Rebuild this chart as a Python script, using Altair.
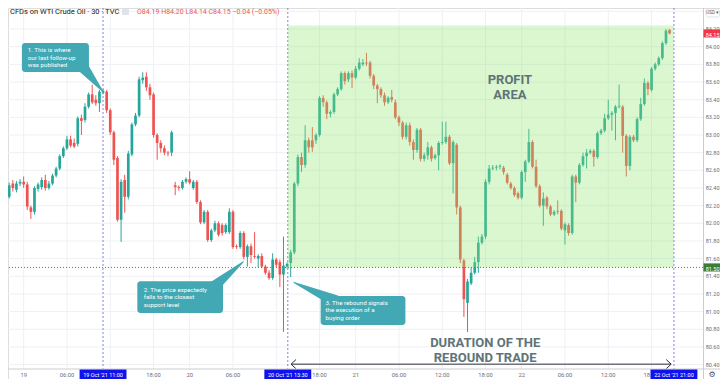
import altair as alt
import pandas as pd

# ---------------- data (30-min candles, index 0 = first bar at left edge) -------------
opens = [82.33, 82.30, 82.45, 82.38, 82.45, 82.47, 82.44, 82.18, 82.13, 82.39,
         82.41, 82.49, 82.40, 82.45, 82.54, 82.62, 82.76, 82.85, 82.95, 82.91,
         82.90, 83.19, 83.17, 83.32, 83.46, 83.40, 83.36, 83.48, 83.49, 83.28,
         83.03, 82.74, 82.04, 82.49, 82.30, 82.78, 83.12, 83.22, 83.62, 83.66,
         83.54, 83.46, 83.00, 82.91, 82.85, 82.80, 82.80, 82.43, 82.41, 82.40,
         82.47, 82.50, 82.40, 82.47, 82.24, 82.01, 82.13, 81.81, 81.92, 82.00,
         81.98, 81.90, 81.90, 82.13, 81.74, 81.73, 81.89, 81.62, 81.74, 81.63,
         81.60, 81.63, 81.51, 81.44, 81.38, 81.59, 81.56, 81.42, 81.51, 81.55,
         81.67, 82.45, 82.75, 82.66, 82.94, 82.94, 82.94, 83.00, 83.42, 83.37,
         83.24, 83.26, 83.46, 83.52, 83.70, 83.63, 83.70, 83.65, 83.75, 83.80,
         83.82, 83.82, 83.67, 83.56, 83.52, 83.45, 83.37, 83.43, 83.37, 83.20,
         83.14, 82.98, 83.11, 82.92, 82.83, 83.06, 82.73, 82.77, 82.86, 82.74,
         82.77, 82.91, 82.92, 82.98, 82.68, 82.89, 82.18, 81.58, 81.10, 81.32,
         81.44, 81.56, 81.78, 81.85, 82.47, 82.62, 82.63, 82.64, 82.63, 82.55,
         82.45, 82.40, 82.34, 82.29, 82.58, 82.70, 82.92, 82.64, 82.42, 82.20,
         82.29, 82.19, 82.10, 82.14, 82.14, 81.92, 81.98, 81.89, 82.53, 82.46,
         82.66, 82.76, 82.80, 82.82, 82.75, 83.02, 83.05, 83.19, 83.23, 83.25,
         83.32, 83.32, 82.99, 82.65, 82.98, 82.94, 83.18, 83.35, 83.59, 83.51,
         83.75, 83.80, 83.87, 84.04, 84.19]
highs = [82.36, 82.46, 82.49, 82.48, 82.50, 82.53, 82.47, 82.20, 82.42, 82.46,
         82.52, 82.55, 82.48, 82.56, 82.64, 82.78, 82.87, 82.99, 82.99, 82.96,
         83.21, 83.23, 83.36, 83.48, 83.57, 83.45, 83.51, 83.52, 83.51, 83.30,
         83.05, 82.76, 82.50, 82.55, 82.82, 83.14, 83.25, 83.66, 83.71, 83.71,
         83.58, 83.48, 83.02, 82.94, 82.88, 82.82, 83.05, 82.47, 82.43, 82.49,
         82.52, 82.59, 82.49, 82.49, 82.26, 82.15, 82.15, 81.94, 82.03, 82.02,
         82.00, 82.00, 82.17, 82.15, 81.76, 81.91, 81.91, 81.76, 81.77, 81.90,
         81.65, 81.66, 81.53, 81.47, 81.66, 81.61, 81.59, 81.85, 81.56, 81.70,
         82.47, 82.78, 82.80, 83.11, 82.97, 83.09, 83.02, 83.44, 83.45, 83.39,
         83.28, 83.48, 83.54, 83.72, 83.72, 83.72, 83.73, 83.78, 83.87, 83.86,
         83.93, 83.84, 83.69, 83.58, 83.54, 83.48, 83.44, 83.51, 83.40, 83.22,
         83.16, 83.14, 83.14, 82.95, 83.08, 83.08, 82.80, 82.92, 82.88, 82.79,
         82.93, 83.15, 83.15, 83.00, 82.94, 82.91, 82.20, 81.60, 81.37, 81.50,
         81.62, 81.85, 81.88, 82.50, 82.66, 82.66, 82.66, 82.67, 82.65, 82.57,
         82.47, 82.42, 82.36, 82.60, 82.72, 83.07, 82.94, 82.72, 82.44, 82.35,
         82.31, 82.21, 82.15, 82.26, 82.16, 82.01, 82.00, 82.55, 82.55, 82.68,
         82.80, 82.84, 82.84, 82.84, 83.04, 83.07, 83.24, 83.40, 83.27, 83.34,
         83.57, 83.34, 83.01, 83.00, 83.00, 83.20, 83.42, 83.64, 83.61, 83.77,
         83.82, 83.89, 84.06, 84.20, 84.20]
lows = [82.22, 82.28, 82.36, 82.35, 82.42, 82.40, 82.15, 82.05, 82.10, 82.36,
        82.38, 82.37, 82.38, 82.43, 82.52, 82.60, 82.74, 82.83, 82.86, 82.85,
        82.87, 83.00, 83.14, 83.30, 83.35, 83.33, 83.26, 83.46, 83.25, 83.00,
        82.66, 82.02, 81.79, 82.12, 82.27, 82.76, 83.10, 83.20, 83.58, 83.50,
        83.40, 82.97, 82.72, 82.80, 82.77, 82.76, 82.76, 82.32, 82.37, 82.38,
        82.45, 82.44, 82.38, 82.22, 81.99, 81.99, 81.79, 81.79, 81.90, 81.85,
        81.86, 81.88, 81.88, 81.71, 81.71, 81.71, 81.59, 81.51, 81.55, 81.60,
        81.50, 81.49, 81.42, 81.36, 81.36, 81.50, 81.28, 80.77, 81.49, 81.39,
        81.65, 82.42, 82.58, 82.63, 82.80, 82.81, 82.90, 82.98, 83.32, 83.18,
        83.20, 83.24, 83.44, 83.50, 83.57, 83.60, 83.53, 83.63, 83.73, 83.78,
        83.78, 83.64, 83.52, 83.36, 83.42, 83.33, 83.35, 83.37, 83.18, 83.10,
        82.95, 82.95, 82.88, 82.72, 82.80, 82.70, 82.70, 82.72, 82.70, 82.72,
        82.60, 82.89, 82.90, 82.66, 82.34, 82.10, 81.55, 80.94, 80.77, 81.30,
        81.42, 81.44, 81.76, 81.82, 82.44, 82.60, 82.60, 82.61, 82.55, 82.44,
        82.38, 82.30, 82.27, 82.27, 82.47, 82.68, 82.62, 82.40, 82.18, 81.97,
        82.16, 82.08, 82.08, 82.10, 81.92, 81.76, 81.86, 81.87, 82.24, 82.44,
        82.64, 82.62, 82.78, 82.64, 82.73, 83.00, 83.03, 83.17, 83.05, 82.94,
        83.30, 82.80, 82.53, 82.60, 82.92, 82.92, 83.16, 83.33, 83.45, 83.49,
        83.73, 83.78, 83.85, 84.02, 84.14]
closes = [82.27, 82.43, 82.40, 82.45, 82.47, 82.44, 82.19, 82.13, 82.40, 82.44,
          82.49, 82.40, 82.45, 82.54, 82.62, 82.76, 82.85, 82.95, 82.88, 82.87,
          83.19, 83.16, 83.32, 83.46, 83.37, 83.36, 83.49, 83.50, 83.28, 83.03,
          82.72, 82.04, 82.47, 82.30, 82.79, 83.12, 83.22, 83.63, 83.65, 83.54,
          83.45, 83.00, 82.91, 82.85, 82.80, 82.79, 83.03, 82.41, 82.40, 82.47,
          82.50, 82.46, 82.47, 82.24, 82.01, 82.13, 81.81, 81.92, 82.00, 81.87,
          81.89, 81.98, 82.13, 81.73, 81.73, 81.89, 81.62, 81.74, 81.64, 81.62,
          81.63, 81.51, 81.44, 81.38, 81.59, 81.53, 81.42, 81.52, 81.54, 81.67,
          82.45, 82.75, 82.66, 82.94, 82.86, 82.86, 83.00, 83.42, 83.37, 83.24,
          83.26, 83.46, 83.52, 83.70, 83.61, 83.70, 83.65, 83.75, 83.82, 83.82,
          83.81, 83.67, 83.56, 83.52, 83.45, 83.37, 83.42, 83.40, 83.20, 83.14,
          82.98, 83.11, 82.92, 82.83, 83.06, 82.73, 82.77, 82.86, 82.73, 82.77,
          82.91, 82.92, 82.98, 82.68, 82.92, 82.18, 81.59, 81.14, 81.34, 81.44,
          81.56, 81.78, 81.85, 82.47, 82.62, 82.63, 82.64, 82.65, 82.58, 82.46,
          82.40, 82.32, 82.29, 82.58, 82.70, 82.92, 82.64, 82.42, 82.20, 82.28,
          82.19, 82.10, 82.13, 82.13, 81.94, 81.99, 81.89, 82.53, 82.46, 82.66,
          82.76, 82.80, 82.82, 82.75, 83.02, 83.05, 83.19, 83.23, 83.25, 83.32,
          83.33, 82.99, 82.65, 82.98, 82.94, 83.18, 83.35, 83.59, 83.52, 83.75,
          83.80, 83.87, 84.04, 84.18, 84.15]

price_ticks = [80.40, 80.60, 80.80, 81.00, 81.20, 81.40, 81.60, 81.80, 82.00, 82.20,
               82.40, 82.60, 82.80, 83.00, 83.20, 83.40, 83.60, 83.80, 84.00, 84.20]
grid_prices = price_ticks + [84.40]
time_tick_idx = [5, 17, 41, 51, 63, 87, 97, 109, 121, 133, 143, 155, 167]
time_tick_lab = ["19", "06:00", "18:00", "20", "06:00", "18:00", "21", "06:00",
                 "12:00", "18:00", "22", "06:00", "12:00"]
partial_tick_idx = [178.6]
partial_tick_lab = ["18"]
vgrid_idx = [5, 17, 29, 41, 51, 63, 75, 87, 97, 109, 121, 133, 143, 155, 167, 179]
marker_idx = [27.0, 78.2, 185.2]
marker_lab = ["19 Oct '21   11:00", "20 Oct '21   13:30", "22 Oct '21   21:00"]
support_level = 81.50
last_price = 84.15
profit_top = 84.24

callout_text = [
    ["1. This is where", "our last follow-up", "was published"],
    ["2. The price expectedly", "falls to the closest", "support level"],
    ["3. The rebound signals", "the execution of a", "buying order"],
]
profit_label = ["PROFIT", "AREA"]
duration_label = ["DURATION OF THE", "REBOUND TRADE"]

# ---------------- styling / layout -------------
OFF = 8
W, H = 712, 371
X_DOMAIN = [2.049, 196.58]
Y_DOMAIN = [84.529 - (8 + H) / 88.3, 84.438]
GREEN, RED = "#26a69a", "#ef5350"
TEAL = "#42a8b4"
GRID = "#eef0f5"
AXC = "#6a6d78"
FONT = "Roboto"
AXIS_Y = 369   # bottom time-axis line (screen px)
LAB_Y = 375
RAX_X = 703.5  # right price-scale separator (screen px)
RLAB_X = 719.5

xs = alt.Scale(domain=X_DOMAIN, nice=False, zero=False)
ys = alt.Scale(domain=Y_DOMAIN, nice=False, zero=False)


def X(f):
    return alt.X(f, type="quantitative", scale=xs, axis=None)


def Y(f):
    return alt.Y(f, type="quantitative", scale=ys, axis=None)


def px(v):
    return alt.value(v - OFF)


df = pd.DataFrame({"k": range(len(opens)), "open": opens, "high": highs,
                   "low": lows, "close": closes})
col = alt.condition("datum.close >= datum.open", alt.value(GREEN), alt.value(RED))

base = alt.Chart(df)
wicks = base.mark_rule(strokeWidth=1, clip=True).encode(x=X("k"), y=Y("low"), y2="high", color=col)
bodies = base.mark_bar(size=2.7, clip=True).encode(x=X("k"), y=Y("open"), y2="close", color=col)

hgrid = alt.Chart(pd.DataFrame({"p": grid_prices})).mark_rule(color=GRID, strokeWidth=1).encode(
    y=Y("p"), x=px(0), x2=px(RAX_X))
vgrid = alt.Chart(pd.DataFrame({"k": vgrid_idx})).mark_rule(color=GRID, strokeWidth=1).encode(
    x=X("k"), y=px(0), y2=px(AXIS_Y))

mk_df = pd.DataFrame({"k": marker_idx, "lab": marker_lab})
mk_df["x0"] = mk_df["k"] - 6.5
mk_df["x1"] = mk_df["k"] + 6.5
vlines = alt.Chart(mk_df).mark_rule(color="#7f82e6", strokeWidth=1, strokeDash=[2, 2]).encode(
    x=X("k"), y=px(0), y2=px(AXIS_Y))

profit = alt.Chart(pd.DataFrame({"x0": [marker_idx[1]], "x1": [marker_idx[2]],
                                 "y0": [support_level], "y1": [profit_top]})).mark_rect(
    color="#8ee86f", opacity=0.33).encode(x=X("x0"), x2="x1", y=Y("y0"), y2="y1")

support = alt.Chart(pd.DataFrame({"p": [support_level]})).mark_rule(
    color="#4f8a45", strokeWidth=1, strokeDash=[1, 2]).encode(y=Y("p"), x=px(0), x2=px(RAX_X))

profit_txt = alt.Chart(pd.DataFrame({"k": [139.75, 139.75], "p": [83.623, 83.453],
                                     "t": profit_label})).mark_text(
    font=FONT, fontSize=13, fontWeight="bold", color="#5e7478", baseline="middle").encode(
    x=X("k"), y=Y("p"), text="t:N")

# callouts (positions in chart units: bar index / price)
box_df = pd.DataFrame({"x0": [4.51, 36.5, 87.3], "x1": [23.09, 60.25, 110.79],
                       "y0": [84.042, 81.345, 81.177], "y1": [83.714, 80.984, 80.848]})
boxes = alt.Chart(box_df).mark_rect(color=TEAL, cornerRadius=3).encode(
    x=X("x0"), x2="x1", y=Y("y0"), y2="y1")
ptr_df = pd.DataFrame({
    "g": [1, 1, 2, 2, 3, 3], "o": [0, 1, 0, 1, 0, 1],
    "k": [21.17, 27.0, 57.24, 65.90, 91.39, 79.92],
    "p": [83.782, 83.490, 81.267, 81.565, 81.120, 81.330],
    "w": [12, 0, 12, 0, 12, 0]})
pointers = alt.Chart(ptr_df).mark_trail(color=TEAL).encode(
    x=X("k"), y=Y("p"), size=alt.Size("w:Q", scale=None, legend=None),
    detail="g:N", order="o:Q")
ct_rows = []
ct_pos = [(6.15, [83.957, 83.875, 83.792]), (38.3, [81.243, 81.160, 81.077]),
          (88.66, [81.098, 81.015, 80.932])]
for lines, (kx, ps) in zip(callout_text, ct_pos):
    for t, p in zip(lines, ps):
        ct_rows.append({"k": kx, "p": p, "t": t})
ctext = alt.Chart(pd.DataFrame(ct_rows)).mark_text(
    font=FONT, fontSize=6.2, color="white", align="left", baseline="middle").encode(
    x=X("k"), y=Y("p"), text="t:N")

dur_txt = alt.Chart(pd.DataFrame({"k": [132.9, 132.9], "p": [80.650, 80.480],
                                  "t": duration_label})).mark_text(
    font=FONT, fontSize=13, fontWeight="bold", color="#5e7478", baseline="middle").encode(
    x=X("k"), y=Y("p"), text="t:N")

arrow_df = pd.DataFrame({
    "a": [79.1, 79.1, 79.1, 184.43, 184.43],
    "b": [184.43, 80.47, 80.47, 183.06, 183.06],
    "p": [80.405, 80.405, 80.405, 80.405, 80.405],
    "q": [80.405, 80.457, 80.353, 80.457, 80.353]})
arrow = alt.Chart(arrow_df).mark_rule(color="#2a2e39", strokeWidth=1).encode(
    x=X("a"), x2="b", y=Y("p"), y2="q")

# right price scale
raxis = alt.Chart(pd.DataFrame({"d": [0]})).mark_rule(color="#c9ccd4").encode(
    x=px(RAX_X), y=px(0), y2=px(8 + H))
plabels = alt.Chart(pd.DataFrame({"p": price_ticks})).mark_text(
    font=FONT, fontSize=5.5, color=AXC, align="right", baseline="middle").encode(
    y=Y("p"), x=px(RLAB_X), text=alt.Text("p:Q", format=".2f"))
tag_df = pd.DataFrame({"p": [last_price, support_level], "c": ["#f23645", "#3b7d34"]})
tag_df["y0"] = tag_df["p"] + 0.046
tag_df["y1"] = tag_df["p"] - 0.046
tags = alt.Chart(tag_df).mark_rect().encode(
    y=Y("y0"), y2="y1", x=px(RAX_X), x2=px(720), color=alt.Color("c:N", scale=None))
tag_txt = alt.Chart(tag_df).mark_text(
    font=FONT, fontSize=5.5, color="white", align="right", baseline="middle", dy=1.5).encode(
    y=Y("p"), x=px(RLAB_X), text=alt.Text("p:Q", format=".2f"))

# bottom time scale
baxis = alt.Chart(pd.DataFrame({"d": [0]})).mark_rule(color="#c9ccd4").encode(
    y=px(AXIS_Y), x=px(0), x2=px(720))
tlabels = alt.Chart(pd.DataFrame({"k": time_tick_idx, "t": time_tick_lab})).mark_text(
    font=FONT, fontSize=5.8, color=AXC, baseline="middle").encode(
    x=X("k"), y=px(LAB_Y), text="t:N")
tpartial = alt.Chart(pd.DataFrame({"k": partial_tick_idx, "t": partial_tick_lab})).mark_text(
    font=FONT, fontSize=5.8, color=AXC, baseline="middle", align="right").encode(
    x=X("k"), y=px(LAB_Y), text="t:N")
mk_box = alt.Chart(mk_df).mark_rect(color="#1111ee").encode(
    x=X("x0"), x2="x1", y=px(AXIS_Y + 0.5), y2=px(8 + H))
mk_txt = alt.Chart(mk_df).mark_text(
    font=FONT, fontSize=5.5, color="white", baseline="middle").encode(
    x=X("k"), y=px(LAB_Y), text="lab:N")

# header texts
hdr = alt.Chart(pd.DataFrame({"t": ["CFDs on WTI Crude Oil · 30 · TVC"]})).mark_text(
    font=FONT, fontSize=7.5, color="#131722", align="left", baseline="middle").encode(
    x=px(10), y=px(12), text="t:N")
hdr_btn = alt.Chart(pd.DataFrame({"d": [0]})).mark_rect(color="#e0e3eb", cornerRadius=1).encode(
    x=px(122), x2=px(129), y=px(9), y2=px(15))
ohlc = alt.Chart(pd.DataFrame({"t": ["O84.19 H84.20 L84.14 C84.15 −0.04 (−0.05%)"]})).mark_text(
    font=FONT, fontSize=7, color=RED, align="left", baseline="middle").encode(
    x=px(137), y=px(12), text="t:N")
usd_box = alt.Chart(pd.DataFrame({"d": [0]})).mark_rect(
    fill="white", stroke="#d1d4dc", strokeWidth=0.7, cornerRadius=2).encode(
    x=px(706), x2=px(719.5), y=px(9), y2=px(17))
usd = alt.Chart(pd.DataFrame({"t": ["USD ▾"]})).mark_text(
    font=FONT, fontSize=4.5, color="#50535e", baseline="middle").encode(
    x=px(712.7), y=px(13), text="t:N")
gear = alt.Chart(pd.DataFrame({"t": ["⚙"]})).mark_text(
    font="DejaVu Sans", fontSize=8, color="#50535e", baseline="middle").encode(
    x=px(712), y=px(LAB_Y), text="t:N")

chart = alt.layer(
    hgrid, vgrid, vlines, wicks, bodies, profit, support, profit_txt,
    pointers, boxes, ctext, dur_txt, arrow,
    raxis, plabels, tags, tag_txt, baxis, tlabels, tpartial, mk_box, mk_txt,
    hdr, hdr_btn, ohlc, usd_box, usd, gear,
).properties(
    width=W, height=H, padding=0,
    autosize=alt.AutoSizeParams(type="none"),
).configure_view(stroke=None).configure(background="white")

chart.save("out.html", embed_options={"renderer": "svg", "actions": False})
